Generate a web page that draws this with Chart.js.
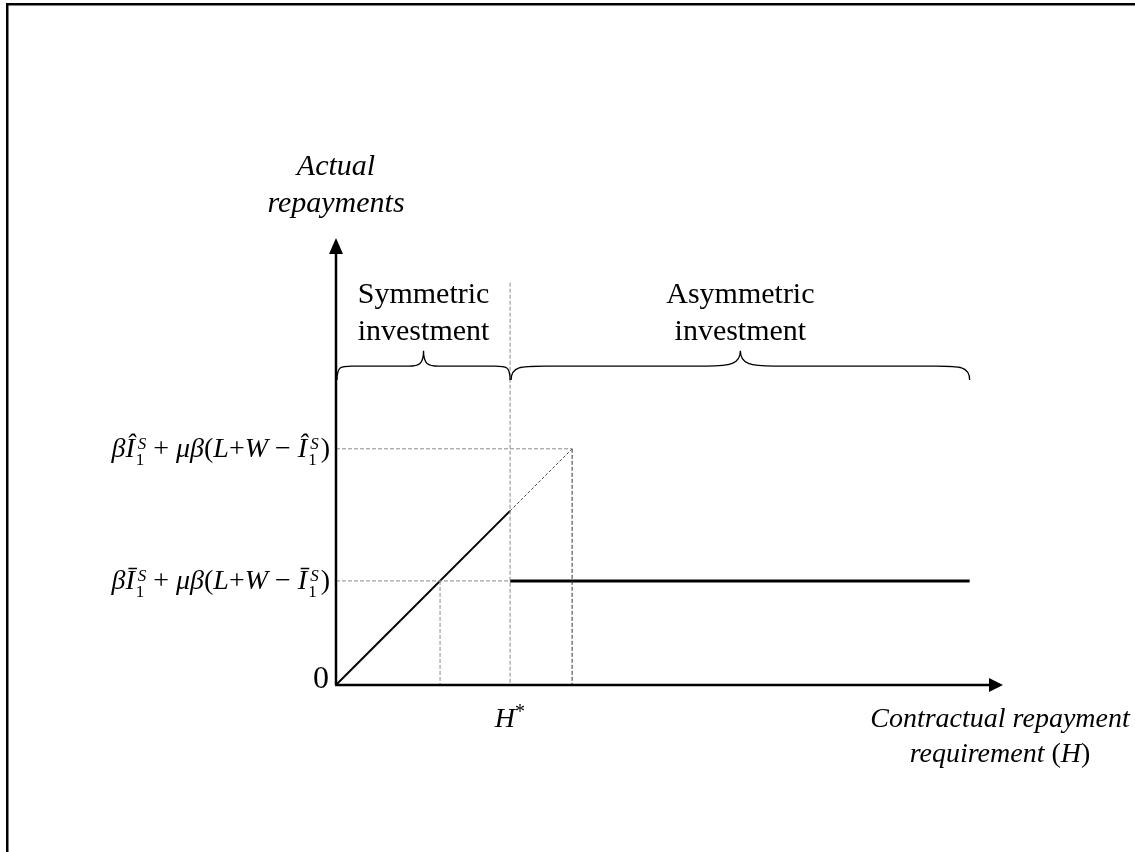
<!DOCTYPE html>
<html>
<head>
<meta charset="utf-8">
<script src="https://cdn.jsdelivr.net/npm/chart.js@4.4.1/dist/chart.umd.min.js"></script>
<style>
  html, body { margin: 0; padding: 0; background: #fff; }
  #wrap { width: 1135px; height: 852px; position: relative; }
</style>
</head>
<body>
<div id="wrap"><canvas id="c" width="1135" height="852"></canvas></div>
<script>
// ---- data (conceptual units; actual repayment = H below H*) ----
const axisMaxH = 100;          // x-axis (arrow tip)
const axisMaxR = 67;           // y-axis (arrow tip)
const hBar = 15.6;             // H where repayment reaches the bar level
const hStar = 26.1;            // H*
const hHat = 35.4;             // H where repayment reaches the hat level
const hEnd = 95;               // end of flat segment
const diagonalH = [0, hStar];
const diagonalR = [0, hStar];
const diagonalDashH = [hStar, hHat];
const diagonalDashR = [hStar, hHat];
const flatH = [hStar, hEnd];
const flatR = [hBar, hBar];
const hStarGuideTop = 60.3;
const braceSpans = [[0, hStar], [hStar, hEnd]];
const braceLevels = [45.7, 47.8, 50.1];   // end, line, tip
const braceLabels = [["Symmetric", "investment"], ["Asymmetric", "investment"]];
const braceCurve = [15, 34];             // curl widths (px)
const yAxisTitle = ["Actual", "repayments"];
const xAxisTitle = ["Contractual repayment", "requirement (H)"];

function pts(xs, ys) { return xs.map((x, i) => ({ x: x, y: ys[i] })); }

const SERIF = "'Liberation Serif', 'Times New Roman', serif";

function drawMath(ctx, parts, xRight, yBase, size) {
  const fontOf = (st, sz) => (st === 'i' ? 'italic ' : '') + sz + 'px ' + SERIF;
  const small = Math.round(size * 0.62);
  let widths = parts.map(p => {
    if (p.sub !== undefined) {
      ctx.font = fontOf('n', small); const w1 = ctx.measureText(p.sub).width;
      ctx.font = fontOf('i', small); const w2 = ctx.measureText(p.sup).width;
      return Math.max(w1, w2) + (p.gap || 2);
    }
    ctx.font = fontOf(p.s, size);
    return ctx.measureText(p.t).width + (p.gap || 0);
  });
  const total = widths.reduce((a, b) => a + b, 0);
  let x = xRight - total;
  ctx.textAlign = 'left';
  ctx.textBaseline = 'alphabetic';
  ctx.fillStyle = '#000';
  parts.forEach((p, i) => {
    if (p.sub !== undefined) {
      ctx.font = fontOf('n', small); ctx.fillText(p.sub, x + 1, yBase + 8);
      ctx.font = fontOf('i', small); ctx.fillText(p.sup, x + 3, yBase - 8);
    } else {
      ctx.font = fontOf(p.s, size);
      ctx.fillText(p.t, x, yBase);
    }
    x += widths[i];
  });
}

function formula(letter) {
  return [
    { t: 'β', s: 'i' }, { t: letter, s: 'i' }, { sub: '1', sup: 'S', gap: 3 },
    { t: ' + ', s: 'n' }, { t: 'μβ', s: 'i' }, { t: '(', s: 'n' }, { t: 'L', s: 'i' },
    { t: '+', s: 'n' }, { t: 'W', s: 'i' }, { t: ' − ', s: 'n' }, { t: letter, s: 'i' },
    { sub: '1', sup: 'S', gap: 5 }, { t: ')', s: 'n' }
  ];
}

const decor = {
  id: 'decor',
  afterDatasetsDraw(chart) {
    const ctx = chart.ctx;
    const xs = chart.scales.x, ys = chart.scales.y;
    const X = v => xs.getPixelForValue(v), Y = v => ys.getPixelForValue(v);
    const x0 = X(0), y0 = Y(0);
    ctx.save();
    // frame
    ctx.fillStyle = '#000';
    ctx.fillRect(6, 3, 1129, 2.5);
    ctx.fillRect(6, 3, 2.5, 849);
    // axes
    ctx.strokeStyle = '#000';
    ctx.lineWidth = 2.5;
    ctx.beginPath();
    ctx.moveTo(x0, y0); ctx.lineTo(x0, Y(axisMaxR) + 14);
    ctx.moveTo(x0 - 1, y0); ctx.lineTo(X(axisMaxH) - 12, y0);
    ctx.stroke();
    ctx.beginPath();
    ctx.moveTo(x0, Y(axisMaxR)); ctx.lineTo(x0 - 7, Y(axisMaxR) + 16); ctx.lineTo(x0 + 7, Y(axisMaxR) + 16); ctx.closePath();
    ctx.fill();
    ctx.beginPath();
    ctx.moveTo(X(axisMaxH), y0); ctx.lineTo(X(axisMaxH) - 14, y0 - 7); ctx.lineTo(X(axisMaxH) - 14, y0 + 7); ctx.closePath();
    ctx.fill();
    // braces
    ctx.lineWidth = 1.3;
    braceSpans.forEach((sp, i) => {
      const a = X(sp[0]) + 1, b = X(sp[1]), m = (a + b) / 2;
      const yE = Y(braceLevels[0]), yL = Y(braceLevels[1]), yT = Y(braceLevels[2]);
      const r = braceCurve[i];
      ctx.beginPath();
      ctx.moveTo(a, yE);
      ctx.bezierCurveTo(a, yL, a + r * 0.3, yL, a + r, yL);
      ctx.lineTo(m - r, yL);
      ctx.bezierCurveTo(m - r * 0.3, yL, m, yL - 2, m, yT);
      ctx.bezierCurveTo(m, yL - 2, m + r * 0.3, yL, m + r, yL);
      ctx.lineTo(b - r, yL);
      ctx.bezierCurveTo(b - r * 0.3, yL, b, yL, b, yE);
      ctx.stroke();
      ctx.font = '30px ' + SERIF;
      ctx.textAlign = 'center';
      ctx.textBaseline = 'alphabetic';
      ctx.fillText(braceLabels[i][0], m, yT - 48);
      ctx.fillText(braceLabels[i][1], m, yT - 11);
    });
    // axis titles
    ctx.font = 'italic 30px ' + SERIF;
    ctx.textAlign = 'center';
    ctx.fillText(yAxisTitle[0], x0, Y(axisMaxR) - 63);
    ctx.fillText(yAxisTitle[1], x0, Y(axisMaxR) - 26);
    ctx.font = 'italic 28px ' + SERIF;
    const xc = X(axisMaxH) - 3;
    ctx.fillText(xAxisTitle[0], xc, y0 + 42);
    // "requirement (H)" with upright parentheses
    const t1 = 'requirement ', t2 = '(', t3 = 'H', t4 = ')';
    const fi = 'italic 28px ' + SERIF, fn = '28px ' + SERIF;
    ctx.font = fi; const w1 = ctx.measureText(t1).width, w3 = ctx.measureText(t3).width;
    ctx.font = fn; const w2 = ctx.measureText(t2).width, w4 = ctx.measureText(t4).width;
    let xx = xc - (w1 + w2 + w3 + w4) / 2;
    ctx.textAlign = 'left';
    ctx.font = fi; ctx.fillText(t1, xx, y0 + 77); xx += w1;
    ctx.font = fn; ctx.fillText(t2, xx, y0 + 77); xx += w2;
    ctx.font = fi; ctx.fillText(t3, xx, y0 + 77); xx += w3;
    ctx.font = fn; ctx.fillText(t4, xx, y0 + 77);
    // 0 label
    ctx.font = '32px ' + SERIF;
    ctx.textAlign = 'center';
    ctx.fillText('0', x0 - 15, y0 + 3);
    // H*
    ctx.font = 'italic 28px ' + SERIF;
    ctx.textAlign = 'right';
    ctx.fillText('H', X(hStar) + 5, y0 + 42);
    ctx.font = '20px ' + SERIF;
    ctx.textAlign = 'left';
    ctx.fillText('*', X(hStar) + 5, y0 + 33);
    // y-axis formulas
    drawMath(ctx, formula('Î'), x0 - 6, Y(hHat) + 8, 28);
    drawMath(ctx, formula('Ī'), x0 - 6, Y(hBar) + 8, 28);
    ctx.restore();
  }
};

const dashGray = { borderColor: '#8a8a8a', borderWidth: 1, borderDash: [4, 2] };
const dashDark = { borderColor: '#333', borderWidth: 1, borderDash: [4, 2] };

new Chart(document.getElementById('c'), {
  type: 'scatter',
  data: {
    datasets: [
      Object.assign({ data: pts([0, hHat], [hHat, hHat]) }, dashGray),
      Object.assign({ data: pts([hHat, hHat], [hHat, 0]) }, dashDark),
      Object.assign({ data: pts([0, hStar], [hBar, hBar]) }, dashGray),
      Object.assign({ data: pts([hBar, hBar], [hBar, 0]) }, dashGray),
      Object.assign({ data: pts([hStar, hStar], [hStarGuideTop, 0]) }, dashGray),
      Object.assign({ data: pts(diagonalDashH, diagonalDashR) }, { borderColor: '#444', borderWidth: 1, borderDash: [3, 2] }),
      { data: pts(diagonalH, diagonalR), borderColor: '#000', borderWidth: 2 },
      { data: pts(flatH, flatR), borderColor: '#000', borderWidth: 3 }
    ].map(d => Object.assign({ showLine: true, pointRadius: 0, fill: false, tension: 0 }, d))
  },
  options: {
    responsive: false,
    animation: false,
    layout: { padding: { left: 336, right: 132, top: 238, bottom: 167 } },
    plugins: { legend: { display: false }, tooltip: { enabled: false } },
    scales: {
      x: { type: 'linear', min: 0, max: axisMaxH, display: false },
      y: { type: 'linear', min: 0, max: axisMaxR, display: false }
    }
  },
  plugins: [decor]
});
</script>
</body>
</html>
